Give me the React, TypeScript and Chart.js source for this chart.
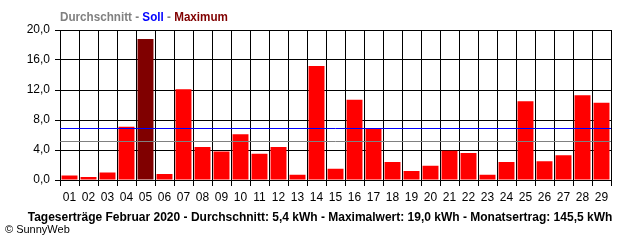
import React, { useEffect, useRef } from "react";
import { Chart, registerables } from "chart.js";

Chart.register(...registerables);

const days = ["01","02","03","04","05","06","07","08","09","10","11","12","13","14","15","16","17","18","19","20","21","22","23","24","25","26","27","28","29"];
const yields = [0.6,0.4,1.0,7.1,18.8,0.8,12.1,4.4,3.8,6.1,3.5,4.4,0.7,15.2,1.5,10.7,6.9,2.4,1.2,1.9,3.9,3.6,0.7,2.4,10.5,2.5,3.3,11.3,10.3];
const averageValue = 5.2;
const targetValue = 6.9;
const yTicks = [0, 4, 8, 12, 16, 20];
const headerParts = [
  { text: "Durchschnitt", color: "#808080" },
  { text: " - ", color: "#808080" },
  { text: "Soll", color: "#0000ff" },
  { text: " - ", color: "#808080" },
  { text: "Maximum", color: "#800000" },
];
const footerTitle = "Tageserträge Februar 2020 - Durchschnitt: 5,4 kWh - Maximalwert: 19,0 kWh - Monatsertrag: 145,5 kWh";
const copyright = "© SunnyWeb";

const FONT = "'Liberation Sans', Arial, sans-serif";

export default function App() {
  const ref = useRef<HTMLCanvasElement | null>(null);
  useEffect(() => {
    if (!ref.current) return;
    const maxIdx = yields.indexOf(Math.max(...yields));
    const colors = yields.map((_, i) => (i === maxIdx ? "#800000" : "#ff0000"));

    const refLines = {
      id: "refLines",
      afterDatasetsDraw(chart: any) {
        const { ctx, chartArea, scales } = chart;
        const draw = (v: number, c: string) => {
          const y = Math.round(scales.y.getPixelForValue(v)) + 0.5;
          ctx.save();
          ctx.strokeStyle = c;
          ctx.lineWidth = 1;
          ctx.beginPath();
          ctx.moveTo(chartArea.left, y);
          ctx.lineTo(chartArea.right, y);
          ctx.stroke();
          ctx.restore();
        };
        draw(averageValue, "#808080");
        draw(targetValue, "#0000ff");
      },
      afterDraw(chart: any) {
        const ctx = chart.ctx;
        ctx.save();
        ctx.textBaseline = "alphabetic";
        ctx.font = `bold 12px ${FONT}`;
        const full = headerParts.map((p) => p.text).join("");
        const fullW = ctx.measureText(full).width;
        const scale = Math.min(1, 168 / fullW);
        let x = 60;
        for (const p of headerParts) {
          const w = ctx.measureText(p.text).width * scale;
          ctx.fillStyle = p.color;
          ctx.fillText(p.text, x, 21, w);
          x += w;
        }
        ctx.fillStyle = "#000";
        ctx.textAlign = "center";
        ctx.fillText(footerTitle, 320, 221, 593);
        ctx.textAlign = "left";
        ctx.font = `11px ${FONT}`;
        ctx.fillText(copyright, 5, 233);
        ctx.restore();
      },
    };

    const chart = new Chart(ref.current, {
      type: "bar",
      data: {
        labels: days,
        datasets: [
          {
            data: yields,
            backgroundColor: colors,
            borderWidth: 0,
            barPercentage: 0.84,
            categoryPercentage: 1,
          },
        ],
      },
      options: {
        animation: false,
        responsive: false,
        devicePixelRatio: 1,
        layout: { padding: { left: 0, top: 30, right: 29, bottom: 0 } },
        plugins: { legend: { display: false }, tooltip: { enabled: false }, title: { display: false } },
        scales: {
          x: {
            grid: { color: "#000", lineWidth: 1, tickLength: 6, offset: true, drawTicks: true },
            border: { color: "#000", width: 1 },
            ticks: { color: "#000", font: { family: FONT, size: 12 }, padding: 4, maxRotation: 0, autoSkip: false },
            afterFit: (s: any) => { s.height = 60; },
          },
          y: {
            min: 0,
            max: 20,
            afterBuildTicks: (s: any) => { s.ticks = yTicks.map((v) => ({ value: v })); },
            grid: { color: "#000", lineWidth: 1, tickLength: 5 },
            border: { color: "#000", width: 1 },
            ticks: {
              color: "#000",
              font: { family: FONT, size: 12 },
              padding: 5,
              callback: (v: any) => Number(v).toFixed(1).replace(".", ","),
            },
            afterFit: (s: any) => { s.width = 60; },
          },
        },
      },
      plugins: [refLines],
    });
    return () => chart.destroy();
  }, []);

  return (
    <div style={{ position: "absolute", left: 0, top: 0, width: 640, height: 240, background: "#fff" }}>
      <canvas ref={ref} width={640} height={240} style={{ width: 640, height: 240 }} />
    </div>
  );
}
